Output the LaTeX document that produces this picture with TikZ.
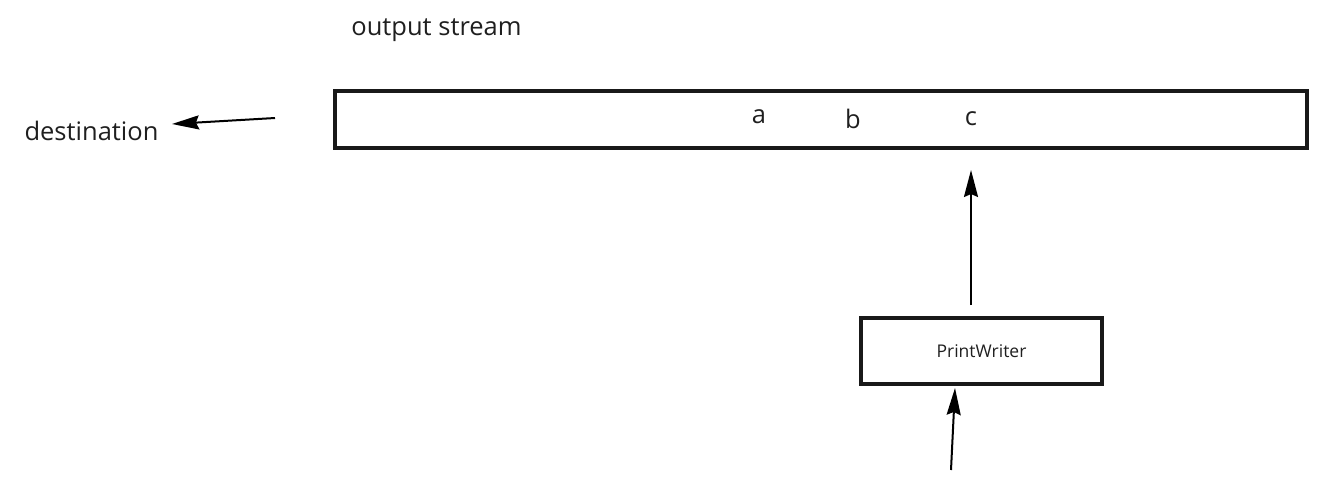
\documentclass[tikz,border=0pt]{standalone}
\usepackage{fontspec}
\setmainfont{Open Sans}
\usetikzlibrary{arrows.meta}
\begin{document}
\begin{tikzpicture}[x=1pt,y=-1pt,
  lbl/.style={font=\fontsize{25.5}{30}\selectfont, text=black!88, inner sep=0pt},
  boxst/.style={draw=black!90, line width=3.4pt, inner sep=0pt},
  arr/.style={line width=2pt, -{Stealth[length=27pt,width=14pt,inset=3pt]}}]
\useasboundingbox (0,0) rectangle (1328,496);
\node[lbl] (os) at (436.5,30) {output stream};
\node[boxst, minimum width=972pt, minimum height=57pt] (stream) at (821,119.5) {};
\node[lbl] (a) at (759,117) {a};
\node[lbl] (b) at (853,119) {b};
\node[lbl] (c) at (971,119) {c};
\node[lbl] (dest) at (91.5,131) {destination};
\coordinate (dstart) at (275,118);
\coordinate (dend) at (172,124);
\draw[arr] (dstart) -- (dend);
\node[boxst, minimum width=241pt, minimum height=66pt, font=\fontsize{17.5}{21}\selectfont, text=black!88] (pw) at (981.5,351) {PrintWriter};
\coordinate (pwtop) at (971,305);
\coordinate (streamin) at (971,170);
\draw[arr] (pwtop) -- (streamin);
\coordinate (inbot) at (951,470);
\coordinate (pwin) at (955,388);
\draw[arr] (inbot) -- (pwin);
\end{tikzpicture}
\end{document}
